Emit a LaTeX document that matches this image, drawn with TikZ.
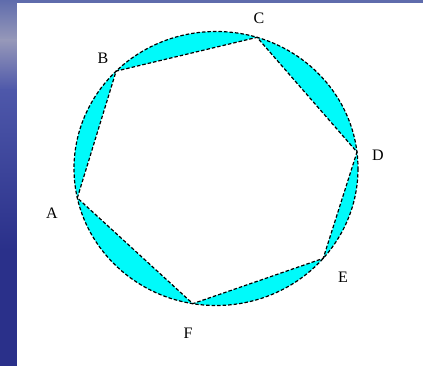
\documentclass[tikz,border=0pt]{standalone}
\usepackage{fontspec}
\setmainfont{Liberation Serif}
\usetikzlibrary{calc}
\definecolor{bgtop}{RGB}{95,108,172}
\definecolor{bgmid}{RGB}{150,152,185}
\definecolor{bgblue}{RGB}{78,88,170}
\definecolor{bgdark}{RGB}{42,48,138}
\definecolor{segcyan}{RGB}{0,250,250}
\tikzset{
  dashline/.style={draw=black, line width=1.2pt, dash pattern=on 3.5pt off 2pt},
  lbl/.style={font=\fontsize{16}{16}\selectfont, inner sep=0pt}
}
\begin{document}
\begin{tikzpicture}[x=1pt,y=-1pt]
\useasboundingbox (0,0) rectangle (423,366);
% background strips
\fill[bgdark] (0,0) rectangle (17,366);
\shade[top color=bgtop, bottom color=bgmid] (0,0) rectangle (17,40);
\shade[top color=bgmid, bottom color=bgblue] (0,40) rectangle (17,90);
\shade[top color=bgblue, bottom color=bgdark] (0,90) rectangle (17,250);
\fill[bgtop] (17,0) rectangle (423,3);
\fill[white] (17,3) rectangle (423,366);
% geometry
\coordinate (O) at (216,168.5);
\coordinate (A) at ($(O)+({142*cos(192.4)},{-137*sin(192.4)})$);
\coordinate (B) at ($(O)+({142*cos(134.7)},{-137*sin(134.7)})$);
\coordinate (C) at ($(O)+({142*cos(73.2)},{-137*sin(73.2)})$);
\coordinate (D) at ($(O)+({142*cos(6.9)},{-137*sin(6.9)})$);
\coordinate (E) at ($(O)+({142*cos(-41)},{-137*sin(-41)})$);
\coordinate (F) at ($(O)+({142*cos(-99.4)},{-137*sin(-99.4)})$);
\fill[segcyan] (O) ellipse [x radius=142, y radius=137];
\fill[white] (A) -- (B) -- (C) -- (D) -- (E) -- (F) -- cycle;
\draw[dashline] (O) ellipse [x radius=142, y radius=137];
\draw[dashline] (A) -- (B) -- (C) -- (D) -- (E) -- (F) -- cycle;
% labels
\node[lbl] (lA) at (52,213) {A};
\node[lbl] (lB) at (103,58) {B};
\node[lbl] (lC) at (259,18) {C};
\node[lbl] (lD) at (378,155) {D};
\node[lbl] (lE) at (343,277) {E};
\node[lbl] (lF) at (188,333) {F};
\end{tikzpicture}
\end{document}
